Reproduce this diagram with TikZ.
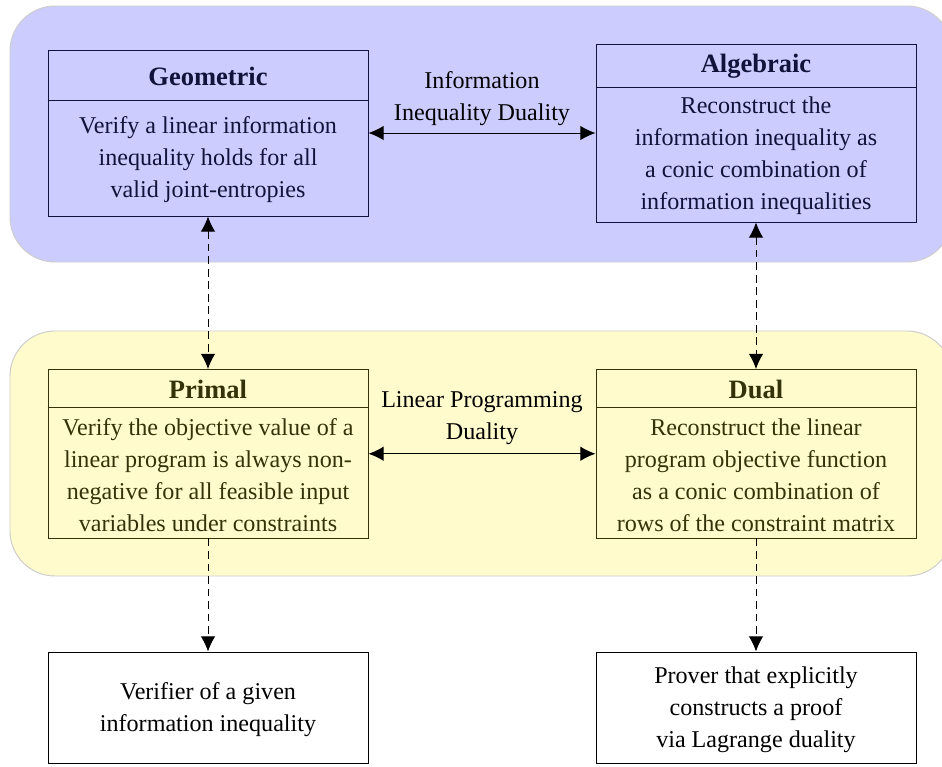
\documentclass[tikz,border=0pt]{standalone}
\usepackage{fontspec}
\setmainfont{Liberation Serif}
\usetikzlibrary{arrows.meta}
\definecolor{navyink}{RGB}{18,18,58}
\definecolor{oliveink}{RGB}{52,50,8}
\definecolor{bluefill}{RGB}{204,204,255}
\definecolor{yellowfill}{RGB}{255,251,204}
\begin{document}
\begin{tikzpicture}[x=0.4149pt,y=-0.4149pt,
  bodyfont/.style={font=\fontsize{10}{13.28}\selectfont, align=center, inner sep=0pt},
  titlefont/.style={font=\fontsize{11}{13}\selectfont\bfseries, inner sep=0pt},
  bluebg/.style={fill=bluefill, draw=black!20, rounded corners=18.7pt},
  yellowbg/.style={fill=yellowfill, draw=black!20, rounded corners=18.7pt},
  bluebox/.style={draw=navyink, text=navyink, minimum width=132.77pt, inner sep=0pt},
  yellowbox/.style={draw=oliveink, text=oliveink, minimum width=132.77pt, inner sep=0pt},
  plainbox/.style={draw=black, minimum width=132.77pt, inner sep=0pt},
  tip/.style={arrows={Latex[length=6.3pt,width=6pt]-Latex[length=6.3pt,width=6pt]}},
  tipone/.style={arrows={-Latex[length=6.3pt,width=6pt]}},
  dashline/.style={dash pattern=on 3.2pt off 2pt}
]
\useasboundingbox (0,0) rectangle (942,766);

% backgrounds
\path[bluebg] (10,6) rectangle (952,262);
\path[yellowbg] (10,331) rectangle (952,576);

% boxes
\node[bluebox, minimum height=68.87pt] (geo) at (208,133) {};
\node[bluebox, minimum height=73.85pt] (alg) at (756,133) {};
\node[yellowbox, minimum height=69.9pt] (pri) at (208,453.75) {};
\node[yellowbox, minimum height=69.9pt] (dua) at (756,453.75) {};
\node[plainbox, minimum height=46.05pt] (ver) at (208,707.5) {};
\node[plainbox, minimum height=46.05pt] (pro) at (756,707.5) {};

% dividers
\draw[navyink] (geo.west |- 0,100) -- (geo.east |- 0,100);
\draw[navyink] (alg.west |- 0,87) -- (alg.east |- 0,87);
\draw[oliveink] (pri.west |- 0,407) -- (pri.east |- 0,407);
\draw[oliveink] (dua.west |- 0,407) -- (dua.east |- 0,407);

% titles
\node[titlefont, text=navyink] (geoT) at (208,76) {Geometric};
\node[titlefont, text=navyink] (algT) at (756,66) {Algebraic};
\node[titlefont, text=oliveink] (priT) at (208,389) {Primal};
\node[titlefont, text=oliveink] (duaT) at (756,389) {Dual};

% bodies
\node[bodyfont, text=navyink] (geoB) at (208,160) {Verify a linear information\\inequality holds for all\\valid joint-entropies};
\node[bodyfont, text=navyink] (algB) at (756,156) {Reconstruct the\\information inequality as\\a conic combination of\\information inequalities};
\node[bodyfont, text=oliveink] (priB) at (208,475) {Verify the objective value of a\\linear program is always non-\\negative for all feasible input\\variables under constraints};
\node[bodyfont, text=oliveink] (duaB) at (756,475) {Reconstruct the linear\\program objective function\\as a conic combination of\\rows of the constraint matrix};
\node[bodyfont] (verB) at (208,709.5) {Verifier of a given\\information inequality};
\node[bodyfont] (proB) at (756,709.5) {Prover that explicitly\\constructs a proof\\via Lagrange duality};

% labels
\node[bodyfont] (lab1) at (482,98.5) {Information\\Inequality Duality};
\node[bodyfont] (lab2) at (482,418.5) {Linear Programming\\Duality};

% connectors
\draw[tip] (geo) -- (alg);
\draw[tip] (pri) -- (dua);
\draw[tip, dashline] (geo) -- (pri);
\draw[tip, dashline] (alg) -- (dua);
\draw[tipone, dashline] (pri) -- (ver);
\draw[tipone, dashline] (dua) -- (pro);
\end{tikzpicture}
\end{document}
